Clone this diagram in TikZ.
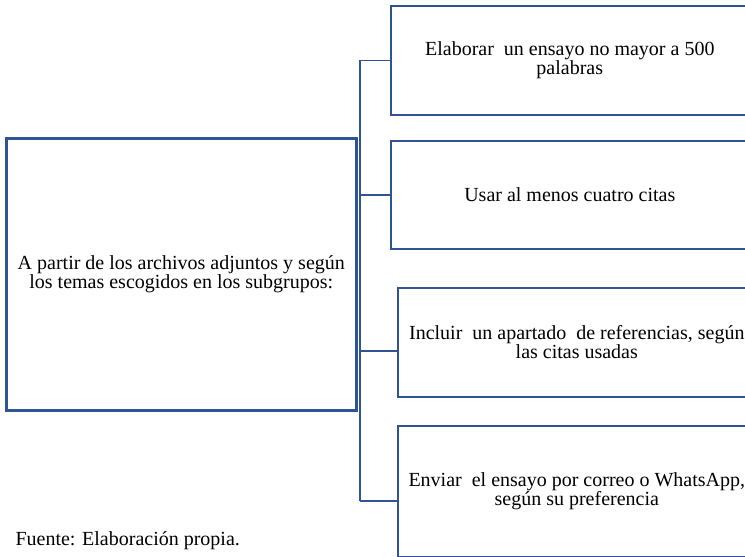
\documentclass[tikz,border=0pt]{standalone}
\usepackage{fontspec}
\setmainfont{Liberation Serif}
\usetikzlibrary{positioning}
\definecolor{frameblue}{RGB}{47,84,150}

\begin{document}
\begin{tikzpicture}[x=1pt, y=-1pt,
    node distance=24.4pt,
    mainbox/.style={draw=frameblue, line width=2.6pt, minimum width=350pt, minimum height=272pt, inner sep=0pt, align=center, font=\fontsize{20}{19}\selectfont},
    subbox/.style={draw=frameblue, line width=1.6pt, minimum width=358pt, minimum height=109pt, inner sep=0pt, align=center, font=\fontsize{20}{19}\selectfont},
    link/.style={draw=frameblue, line width=1.4pt}]
  \useasboundingbox (0,0) rectangle (745,557);

  \node[mainbox, anchor=north west] (task) at (5,137) {A partir de los archivos adjuntos y según\\los temas escogidos en los subgrupos:};
  \node[subbox, anchor=north west] (essay) at (390,5) {Elaborar\ \ un ensayo no mayor a 500\\palabras};
  \node[subbox, below=of essay, minimum height=108pt] (quotes) {Usar al menos cuatro citas};
  \node[subbox, below=37.4pt of quotes, xshift=7pt] (refs) {Incluir\ \ un apartado\ \ de referencias, según\\las citas usadas};
  \node[subbox, below=27.4pt of refs, minimum height=131pt] (send) {Enviar\ \ el ensayo por correo o WhatsApp,\\según su preferencia};
  \node[anchor=base west, font=\fontsize{20}{20}\selectfont] (source) at (12,545) {Fuente: Elaboración propia.};

  % branch points
  \coordinate (trunktop) at ([xshift=2.5pt]task.east |- essay.west);
  \coordinate (refsin) at ([yshift=-8.5pt]refs.west);
  \coordinate (sendin) at ([yshift=-9.5pt]send.west);

  \draw[link, line width=1.7pt] (trunktop) -- (trunktop |- sendin);
  \draw[link] (trunktop) -- (essay.west);
  \draw[link] (trunktop |- quotes.west) -- (quotes.west);
  \draw[link] (trunktop |- refsin) -- (refsin);
  \draw[link] (trunktop |- sendin) -- (sendin);
\end{tikzpicture}
\end{document}
